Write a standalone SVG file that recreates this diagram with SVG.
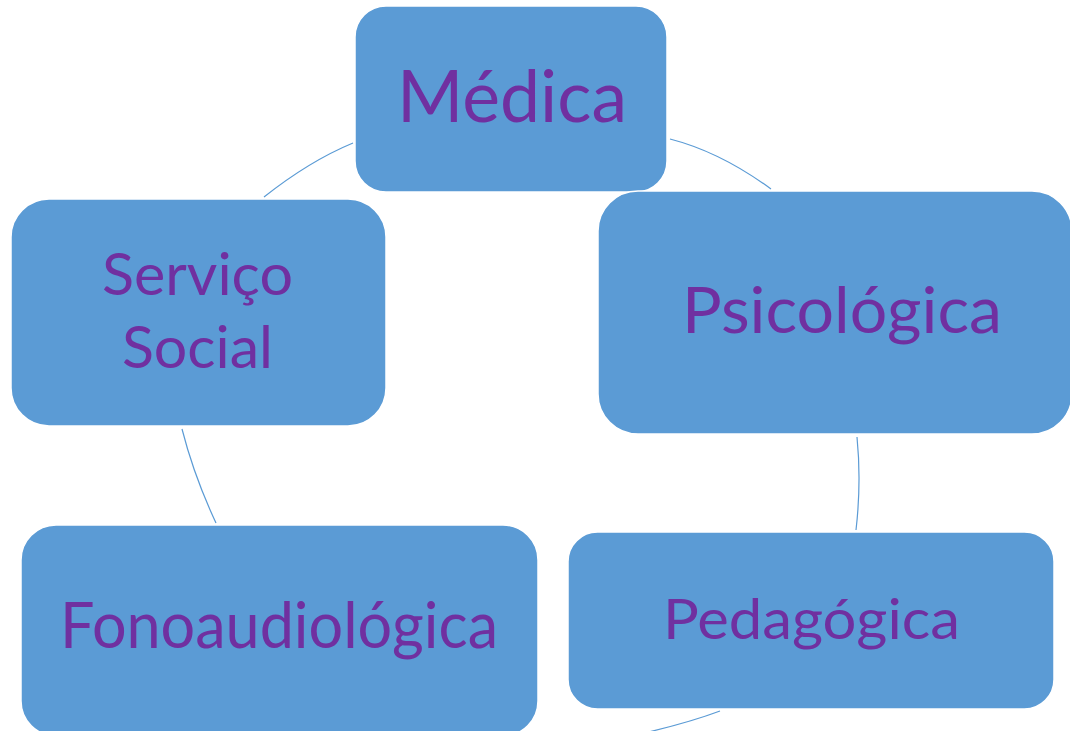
<svg xmlns="http://www.w3.org/2000/svg" width="1070" height="731" viewBox="0 0 1070 731">
  <style>
    .box { fill: #5B9BD5; stroke: #FFFFFF; stroke-width: 1.5; }
    .lbl { fill: #7030A0; font-family: Lato, "Open Sans", "Liberation Sans", sans-serif; text-anchor: middle; }
    .arc { fill: none; stroke: #5B9BD5; stroke-width: 1.2; }
  </style>
  <rect width="1070" height="731" fill="#FFFFFF"/>

  <!-- cycle arcs between the boxes -->
  <g id="connectors">
    <path class="arc" d="M264,197 Q309.5,161 353,143"/>
    <path class="arc" d="M670,139 Q720.5,152 771,189"/>
    <path class="arc" d="M857,437 Q861.5,482.5 856,530"/>
    <path class="arc" d="M182,429 Q194,476 216,523"/>
    <path class="arc" d="M720,711 Q688,723 640,734"/>
  </g>

  <g id="node-medica">
    <rect class="box" x="355" y="6" width="312" height="186" rx="31" ry="31"/>
    <text class="lbl" x="512" y="122" font-size="71" textLength="230" lengthAdjust="spacingAndGlyphs">Médica</text>
  </g>

  <g id="node-psicologica">
    <rect class="box" x="598" y="191" width="474" height="243" rx="40" ry="40"/>
    <text class="lbl" x="842" y="333" font-size="64" textLength="320" lengthAdjust="spacingAndGlyphs">Psicológica</text>
  </g>

  <g id="node-servico-social">
    <rect class="box" x="11" y="199" width="375" height="227" rx="38" ry="38"/>
    <text class="lbl" x="197.5" y="295" font-size="58" textLength="191" lengthAdjust="spacingAndGlyphs">Serviço</text>
    <text class="lbl" x="197.5" y="368" font-size="58" textLength="151" lengthAdjust="spacingAndGlyphs">Social</text>
  </g>

  <g id="node-fonoaudiologica">
    <rect class="box" x="21" y="525" width="517" height="211" rx="35" ry="35"/>
    <text class="lbl" x="279" y="648" font-size="63" textLength="438" lengthAdjust="spacingAndGlyphs">Fonoaudiológica</text>
  </g>

  <g id="node-pedagogica">
    <rect class="box" x="568" y="532" width="486" height="177" rx="29.5" ry="29.5"/>
    <text class="lbl" x="811.5" y="639" font-size="57" textLength="297" lengthAdjust="spacingAndGlyphs">Pedagógica</text>
  </g>
</svg>
